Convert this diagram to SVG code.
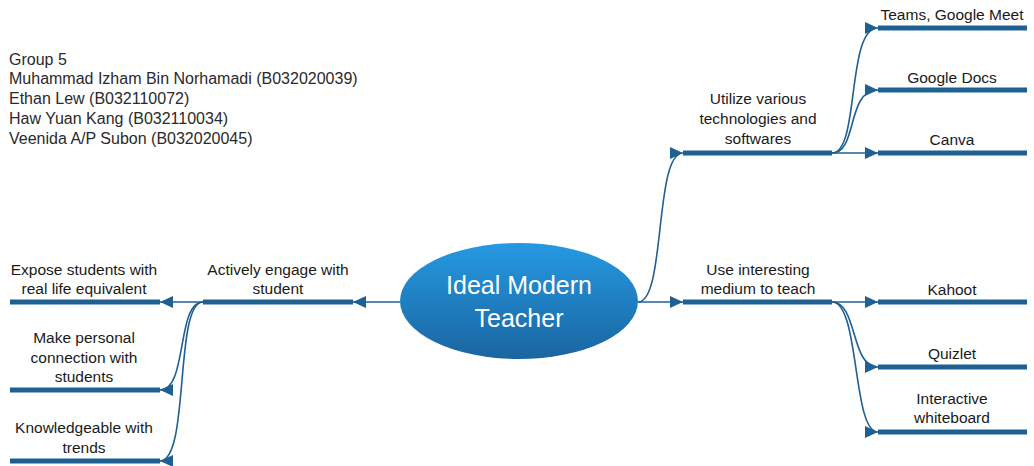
<svg xmlns="http://www.w3.org/2000/svg" width="1034" height="466" viewBox="0 0 1034 466">
<style>
text{font-family:"Liberation Sans",Arial,sans-serif;font-size:15.5px;fill:#1a1a1a}
.hdr{font-size:16px;fill:#2a2a2a}
.lbl{text-anchor:middle}
.bar{stroke:#1f6093;stroke-width:5;fill:none}
.con{stroke:#1f6093;stroke-width:1.6;fill:none;marker-end:url(#ah)}
.ctr{font-size:25px;fill:#ffffff;text-anchor:middle}
</style>
<defs>
<marker id="ah" markerUnits="userSpaceOnUse" markerWidth="14" markerHeight="12" refX="13" refY="6" orient="auto">
<path d="M0,0 L13,6 L0,12 Z" fill="#1f6093"/>
</marker>
<linearGradient id="eg" x1="0" y1="0" x2="0" y2="1">
<stop offset="0" stop-color="#2599e2"/>
<stop offset="1" stop-color="#1a65a0"/>
</linearGradient>
</defs>
<rect width="1034" height="466" fill="#ffffff"/>
<g id="header">
<text class="hdr" x="9" y="65">Group 5</text>
<text class="hdr" x="9" y="84">Muhammad Izham Bin Norhamadi (B032020039)</text>
<text class="hdr" x="9" y="104">Ethan Lew (B032110072)</text>
<text class="hdr" x="9" y="124">Haw Yuan Kang (B032110034)</text>
<text class="hdr" x="9" y="144">Veenida A/P Subon (B032020045)</text>
</g>
<g id="connectors">
<path class="con" d="M638,302 L683,302"/>
<path class="con" d="M638,302 C666,302 654,153 683,153"/>
<path class="con" d="M400,302 L353,302"/>
<path class="con" d="M832,153 L878,153"/>
<path class="con" d="M832,153 C858,153 846,90 878,90"/>
<path class="con" d="M832,153 C860,153 846,28 878,28"/>
<path class="con" d="M832,302 L878,302"/>
<path class="con" d="M832,302 C858,302 850,367 878,367"/>
<path class="con" d="M832,302 C860,302 852,432 878,432"/>
<path class="con" d="M203,302 L160,302"/>
<path class="con" d="M203,302 C176,302 188,390 160,390"/>
<path class="con" d="M203,302 C174,302 190,461 160,461"/>
</g>
<g id="center">
<ellipse cx="519" cy="301" rx="119" ry="58" fill="url(#eg)"/>
<text class="ctr" x="519" y="294">Ideal Modern</text>
<text class="ctr" x="519" y="327">Teacher</text>
</g>
<g id="utilize">
<line class="bar" x1="683" y1="153" x2="832" y2="153"/>
<text class="lbl" x="758" y="104">Utilize various</text>
<text class="lbl" x="758" y="124">technologies and</text>
<text class="lbl" x="758" y="144">softwares</text>
</g>
<g id="teams">
<line class="bar" x1="878" y1="28" x2="1027" y2="28"/>
<text class="lbl" x="952" y="20">Teams, Google Meet</text>
</g>
<g id="docs">
<line class="bar" x1="878" y1="90" x2="1027" y2="90"/>
<text class="lbl" x="952" y="83">Google Docs</text>
</g>
<g id="canva">
<line class="bar" x1="878" y1="153" x2="1027" y2="153"/>
<text class="lbl" x="952" y="145">Canva</text>
</g>
<g id="medium">
<line class="bar" x1="683" y1="302" x2="832" y2="302"/>
<text class="lbl" x="758" y="275">Use interesting</text>
<text class="lbl" x="758" y="294">medium to teach</text>
</g>
<g id="kahoot">
<line class="bar" x1="878" y1="302" x2="1027" y2="302"/>
<text class="lbl" x="952" y="295">Kahoot</text>
</g>
<g id="quizlet">
<line class="bar" x1="878" y1="367" x2="1027" y2="367"/>
<text class="lbl" x="952" y="359">Quizlet</text>
</g>
<g id="whiteboard">
<line class="bar" x1="878" y1="432" x2="1027" y2="432"/>
<text class="lbl" x="952" y="404">Interactive</text>
<text class="lbl" x="952" y="423">whiteboard</text>
</g>
<g id="engage">
<line class="bar" x1="203" y1="302" x2="353" y2="302"/>
<text class="lbl" x="278" y="275">Actively engage with</text>
<text class="lbl" x="278" y="294">student</text>
</g>
<g id="expose">
<line class="bar" x1="10" y1="302" x2="160" y2="302"/>
<text class="lbl" x="84" y="275">Expose students with</text>
<text class="lbl" x="84" y="294">real life equivalent</text>
</g>
<g id="personal">
<line class="bar" x1="10" y1="390" x2="160" y2="390"/>
<text class="lbl" x="84" y="343">Make personal</text>
<text class="lbl" x="84" y="363">connection with</text>
<text class="lbl" x="84" y="382">students</text>
</g>
<g id="trends">
<line class="bar" x1="10" y1="461" x2="160" y2="461"/>
<text class="lbl" x="84" y="433">Knowledgeable with</text>
<text class="lbl" x="84" y="453">trends</text>
</g>
</svg>
